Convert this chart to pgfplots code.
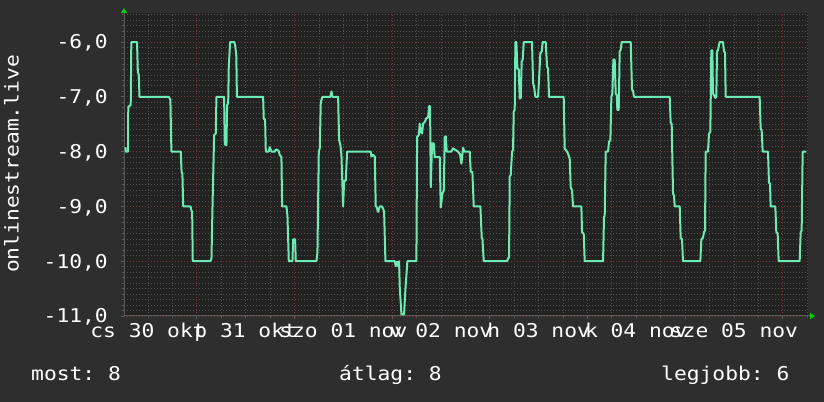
\documentclass[border=0pt]{standalone}
\usepackage{fontspec}
\setmainfont[FakeStretch=1.12]{DejaVu Sans Mono}
\usepackage{pgfplots}
\pgfplotsset{compat=1.18}
\usetikzlibrary{arrows.meta}
\frenchspacing

\definecolor{outerbg}{RGB}{46,46,46}
\definecolor{plotbg}{RGB}{34,34,34}
\definecolor{gridred}{RGB}{125,55,55}
\definecolor{gridgray}{RGB}{82,82,82}
\definecolor{axisgray}{RGB}{90,90,90}
\definecolor{arrowgreen}{RGB}{0,210,0}
\definecolor{linegreen}{RGB}{110,235,180}

\newcommand{\rrd}{\fontsize{19bp}{22bp}\selectfont}

% hours from midnight 31 Oct
\pgfplotstableread{
h v
-17.55 -7.92
-17.45 -8.00
-16.90 -8.00
-16.85 -7.18
-16.25 -7.15
-16.10 -6.00
-14.70 -6.00
-14.50 -6.55
-14.25 -6.60
-14.10 -7.00
-6.90 -7.00
-6.50 -7.05
-6.25 -8.00
-3.95 -8.00
-3.75 -8.37
-3.55 -8.40
-3.35 -9.00
-1.55 -9.00
-1.35 -9.07
-1.15 -9.10
-1.00 -10.00
3.30 -10.00
3.60 -9.95
3.85 -9.00
4.25 -7.70
4.65 -7.67
4.82 -7.00
6.70 -7.00
6.87 -7.87
7.28 -7.88
7.44 -7.15
7.70 -7.12
7.85 -6.45
8.18 -6.00
9.20 -6.00
9.45 -6.08
9.70 -6.25
9.85 -7.00
16.29 -7.00
16.45 -7.40
16.78 -7.42
16.95 -8.00
17.68 -8.00
17.93 -7.92
18.34 -8.00
19.16 -8.00
19.40 -7.96
20.06 -7.98
20.39 -8.06
20.79 -8.10
20.96 -9.00
22.02 -9.00
22.27 -9.17
22.60 -10.00
23.50 -10.00
23.66 -9.60
24.15 -9.60
24.32 -10.00
29.39 -10.00
29.64 -9.84
29.97 -8.00
30.21 -7.94
30.46 -7.10
30.87 -7.00
32.83 -7.00
33.08 -6.90
33.32 -7.00
34.72 -7.00
34.96 -7.79
35.29 -7.88
35.54 -8.07
35.95 -9.00
36.19 -8.53
36.60 -8.53
36.93 -8.00
42.74 -8.00
42.91 -8.09
43.32 -8.06
43.73 -8.09
43.97 -9.00
44.13 -9.00
44.54 -9.10
44.96 -9.00
45.53 -9.00
46.02 -9.09
46.35 -10.00
48.64 -10.00
48.89 -10.09
49.21 -10.01
49.46 -10.09
49.70 -10.00
49.87 -10.48
50.28 -10.97
50.93 -10.97
51.26 -10.51
51.75 -10.00
53.96 -10.00
54.13 -7.73
54.54 -7.70
54.78 -7.49
55.03 -7.64
55.36 -7.67
55.60 -7.49
56.01 -7.46
56.42 -7.39
56.83 -7.38
57.08 -7.17
57.32 -7.17
57.49 -8.65
57.81 -7.85
58.22 -7.85
58.47 -8.10
59.70 -8.10
59.94 -9.02
60.35 -8.77
60.68 -8.71
60.93 -7.73
61.17 -7.72
61.42 -8.00
62.56 -8.00
62.97 -7.94
63.55 -7.97
64.20 -8.00
64.69 -8.05
65.02 -8.22
65.43 -7.93
65.68 -7.98
65.84 -8.00
67.07 -8.00
67.31 -8.37
67.72 -8.37
68.05 -9.00
69.69 -9.00
70.02 -9.58
70.18 -9.58
70.51 -10.00
76.24 -10.00
76.49 -9.95
76.73 -9.93
76.90 -8.45
77.14 -8.43
77.47 -8.00
77.71 -7.97
77.88 -7.27
78.12 -7.24
78.29 -6.00
78.53 -6.00
78.78 -6.48
79.11 -6.50
79.35 -7.03
79.60 -7.03
79.84 -6.35
80.09 -6.32
80.34 -6.00
82.38 -6.00
82.63 -6.75
82.87 -6.81
83.20 -7.00
83.86 -7.00
84.10 -6.68
84.43 -6.20
84.76 -6.17
85.00 -6.00
85.74 -6.00
86.07 -6.45
86.31 -6.48
86.56 -7.00
90.16 -7.00
90.41 -7.95
90.82 -7.98
91.23 -8.04
91.64 -8.13
91.88 -8.65
92.21 -8.71
92.46 -9.00
94.50 -9.00
94.67 -9.47
95.08 -9.50
95.32 -10.00
99.83 -10.00
100.07 -9.19
100.24 -9.17
100.48 -8.00
101.06 -8.00
101.30 -7.82
101.63 -7.79
101.88 -7.00
102.12 -6.94
102.37 -6.32
102.69 -6.32
102.94 -6.94
103.19 -6.97
103.35 -7.24
103.68 -7.24
103.92 -6.17
104.17 -6.14
104.41 -6.00
106.63 -6.00
106.95 -6.87
107.20 -6.89
107.44 -7.00
116.21 -7.00
116.45 -7.47
116.70 -7.49
117.03 -8.77
117.27 -8.80
117.44 -9.00
118.67 -9.00
118.91 -9.58
119.24 -9.60
119.48 -10.00
123.74 -10.00
123.99 -9.60
124.40 -9.57
124.64 -9.47
124.89 -9.44
125.05 -8.00
125.63 -8.00
125.87 -7.67
126.20 -7.64
126.44 -6.15
126.69 -6.15
126.85 -6.94
127.10 -6.97
127.43 -7.02
127.67 -7.00
127.84 -6.17
128.08 -6.15
128.49 -6.00
129.31 -6.00
129.56 -6.17
129.80 -6.19
129.97 -7.00
138.32 -7.00
138.57 -7.58
138.81 -7.61
139.06 -8.00
140.37 -8.00
140.61 -8.57
140.86 -8.58
141.02 -9.00
142.17 -9.00
142.41 -9.47
142.74 -9.49
142.99 -10.00
148.15 -10.00
148.40 -9.47
148.64 -9.44
148.89 -8.00
149.78 -8.00
}\listeners

\begin{document}
\begin{tikzpicture}
\fill[outerbg] (0,0) rectangle (824bp,402bp);

\begin{axis}[
  at={(124bp,86bp)}, anchor=south west,
  scale only axis,
  width=684bp, height=303bp,
  xmin=-17.9, xmax=150.2,
  ymin=-11, ymax=-5.47,
  axis background/.style={fill=plotbg},
  axis x line=bottom, axis y line=left,
  axis line style={draw=axisgray, line width=1bp},
  x axis line style={-{Triangle[length=5bp,width=6bp,color=arrowgreen]}, shorten >=-7bp},
  y axis line style={-{Triangle[length=5bp,width=6bp,color=arrowgreen]}, shorten >=-5bp},
  xtick={0,24,...,144},
  xticklabels={},
  minor xtick={-12,-6,...,150},
  ytick={-11,-10,...,-6},
  yticklabels={{-11,0},{-10,0},{-9,0},{-8,0},{-7,0},{-6,0}},
  minor ytick={-10.9,-10.8,...,-5.5},
  grid=both,
  major grid style={draw=gridred, line width=0.8bp, dash pattern=on 1bp off 2bp},
  minor grid style={draw=gridgray, line width=0.8bp, dash pattern=on 1bp off 2bp},
  tick align=outside,
  major tick length=3bp, minor tick length=2bp,
  tick style={draw=axisgray, line width=0.8bp},
  tick label style={font=\rrd, text=white},
  yticklabel style={anchor=base east, inner sep=0pt, xshift=-13bp, yshift=-6.9bp},
  extra x ticks={-12,12,36,60,84,108,132},
  extra x tick labels={cs 30 okt,p 31 okt,szo 01 nov,v 02 nov,h 03 nov,k 04 nov,sze 05 nov},
  extra x tick style={grid=none, major tick length=0pt,
    xticklabel style={anchor=base, inner sep=0pt, yshift=-22bp}},
  clip=true,
]
\addplot[color=linegreen, line width=2bp, line join=round] table[x=h, y=v] {\listeners};
\end{axis}

\node[font=\rrd, text=white, rotate=90, anchor=base] at (18.5bp,238bp) {onlinestream.live};
\node[font=\rrd, text=white, anchor=base west, inner sep=0pt] at (31bp,22bp) {most: 8};
\node[font=\rrd, text=white, anchor=base west, inner sep=0pt] at (339bp,22bp) {átlag: 8};
\node[font=\rrd, text=white, anchor=base west, inner sep=0pt] at (661bp,22bp) {legjobb: 6};

\pgfresetboundingbox
\path (0,0) rectangle (824bp,402bp);
\end{tikzpicture}
\end{document}
